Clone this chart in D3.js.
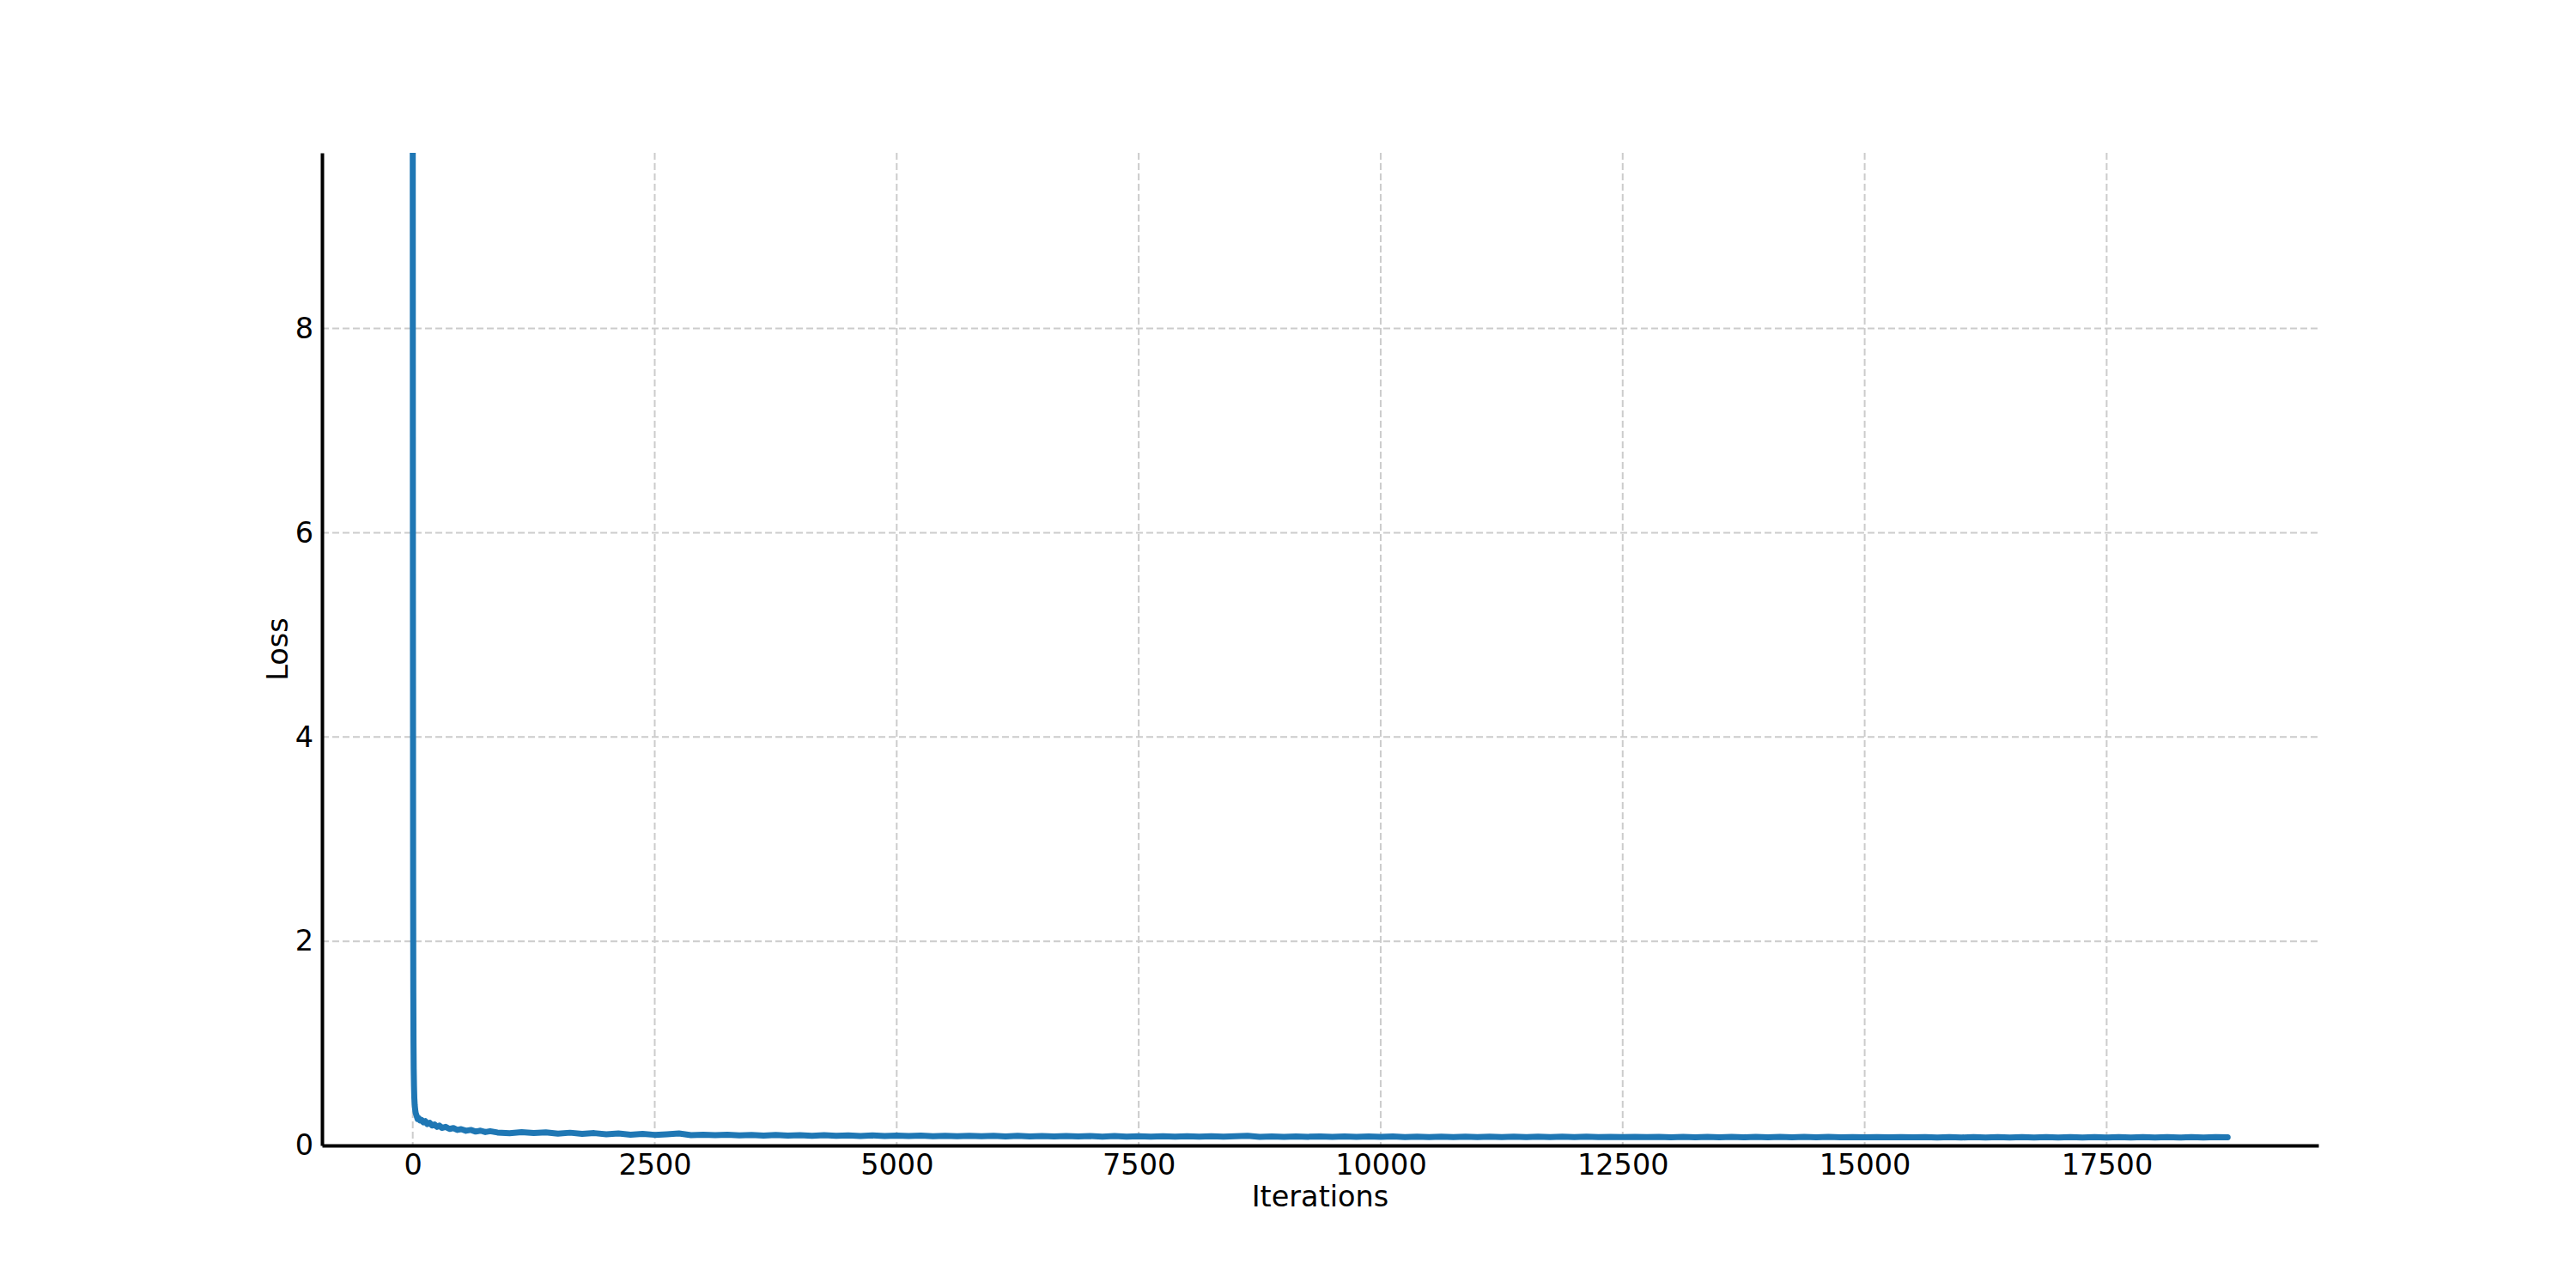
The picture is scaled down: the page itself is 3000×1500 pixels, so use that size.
<!DOCTYPE html>
<html>
<head>
<meta charset="utf-8">
<script src="https://cdn.jsdelivr.net/npm/d3@7"></script>
<style>
  body { margin: 0; background: #ffffff; }
  text { font-family: "DejaVu Sans", sans-serif; fill: #000000; }
</style>
</head>
<body>
<div id="chart"></div>
<script>
// training run
const iterations = [
  0, 2, 4, 6, 8, 10, 13, 16, 20, 25, 30, 40, 50, 60, 75, 90,
  110, 130, 150, 175, 200, 225, 250, 275, 300, 340, 380, 420, 460, 500,
  550, 600, 650, 700, 750, 800, 875,
  1000, 1125, 1250, 1375, 1500, 1625, 1750, 1875, 2000, 2125, 2250, 2375,
  2500, 2625, 2750, 2875, 3000, 3125, 3250, 3375, 3500, 3625, 3750, 3875,
  4000, 4125, 4250, 4375, 4500, 4625, 4750, 4875, 5000, 5125, 5250, 5375,
  5500, 5625, 5750, 5875, 6000, 6125, 6250, 6375, 6500, 6625, 6750, 6875,
  7000, 7125, 7250, 7375, 7500, 7625, 7750, 7875, 8000, 8125, 8250, 8375,
  8500, 8625, 8750, 8875, 9000, 9125, 9250, 9375, 9500, 9625, 9750, 9875,
  10000, 10125, 10250, 10375, 10500, 10625, 10750, 10875, 11000, 11125, 11250, 11375,
  11500, 11625, 11750, 11875, 12000, 12125, 12250, 12375, 12500, 12625, 12750, 12875,
  13000, 13125, 13250, 13375, 13500, 13625, 13750, 13875, 14000, 14125, 14250, 14375,
  14500, 14625, 14750, 14875, 15000, 15125, 15250, 15375, 15500, 15625, 15750, 15875,
  16000, 16125, 16250, 16375, 16500, 16625, 16750, 16875, 17000, 17125, 17250, 17375,
  17500, 17625, 17750, 17875, 18000, 18125, 18250, 18375, 18500, 18625, 18750
]
const loss = [
  9.9, 5.2, 2.6, 1.5, 1.0, 0.75, 0.58, 0.47, 0.40, 0.35, 0.32, 0.29, 0.26, 0.268, 0.245, 0.25,
  0.226, 0.238, 0.21, 0.222, 0.196, 0.206, 0.182, 0.194, 0.172, 0.182, 0.162, 0.17, 0.152, 0.16,
  0.144, 0.152, 0.136, 0.145, 0.131, 0.14, 0.127,
  0.120, 0.131, 0.122, 0.129, 0.115, 0.125, 0.113, 0.121, 0.109, 0.117, 0.106, 0.113,
  0.104, 0.110, 0.118, 0.101, 0.106, 0.100, 0.105, 0.098, 0.103, 0.097, 0.102, 0.096,
  0.101, 0.095, 0.100, 0.094, 0.099, 0.093, 0.098, 0.092, 0.097, 0.092, 0.096, 0.091,
  0.095, 0.091, 0.095, 0.090, 0.094, 0.089, 0.094, 0.089, 0.093, 0.088, 0.093, 0.088,
  0.092, 0.087, 0.092, 0.087, 0.091, 0.087, 0.091, 0.086, 0.090, 0.086, 0.090, 0.086,
  0.090, 0.094, 0.085, 0.089, 0.085, 0.089, 0.085, 0.089, 0.084, 0.089, 0.084, 0.088,
  0.084, 0.088, 0.083, 0.087, 0.083, 0.087, 0.083, 0.087, 0.082, 0.087, 0.082, 0.086,
  0.082, 0.086, 0.082, 0.086, 0.081, 0.086, 0.081, 0.085, 0.081, 0.085, 0.081, 0.085,
  0.080, 0.085, 0.080, 0.084, 0.080, 0.084, 0.080, 0.084, 0.080, 0.084, 0.079, 0.084,
  0.079, 0.084, 0.079, 0.083, 0.079, 0.083, 0.079, 0.083, 0.079, 0.083, 0.078, 0.083,
  0.078, 0.083, 0.078, 0.082, 0.078, 0.082, 0.078, 0.082, 0.078, 0.082, 0.078, 0.082,
  0.077, 0.082, 0.077, 0.082, 0.077, 0.082, 0.077, 0.081, 0.077, 0.081, 0.080
]
const xTicks = [0, 2500, 5000, 7500, 10000, 12500, 15000, 17500]
const yTicks = [0, 2, 4, 6, 8]
const xDomain = [-937.5, 19687.5]
const yDomain = [0, 9.72]

const width = 3000
const height = 1500
const margin = { left: 375, right: 300, top: 178, bottom: 166 }
const plotW = width - margin.left - margin.right
const plotH = height - margin.top - margin.bottom
const fontSize = 33.5

const svg = d3.select("#chart")
  .append("svg")
  .attr("width", width)
  .attr("height", height)

const x = d3.scaleLinear().domain(xDomain).range([0, plotW])
const y = d3.scaleLinear().domain(yDomain).range([plotH, 0])

const g = svg.append("g")
  .attr("transform", "translate(" + margin.left + "," + margin.top + ")")

// dashed grid
g.append("g")
  .selectAll("line")
  .data(xTicks)
  .enter()
  .append("line")
  .attr("x1", d => x(d))
  .attr("x2", d => x(d))
  .attr("y1", 0)
  .attr("y2", plotH)
  .attr("stroke", "#cccccc")
  .attr("stroke-width", 2)
  .attr("stroke-dasharray", "8,4")

g.append("g")
  .selectAll("line")
  .data(yTicks)
  .enter()
  .append("line")
  .attr("x1", 0)
  .attr("x2", plotW)
  .attr("y1", d => y(d))
  .attr("y2", d => y(d))
  .attr("stroke", "#cccccc")
  .attr("stroke-width", 2)
  .attr("stroke-dasharray", "8,4")

// clip the line to the axes box
svg.append("defs")
  .append("clipPath")
  .attr("id", "plotclip")
  .append("rect")
  .attr("width", plotW)
  .attr("height", plotH)

const line = d3.line()
  .x((d, i) => x(iterations[i]))
  .y(d => y(d))

g.append("path")
  .datum(loss)
  .attr("clip-path", "url(#plotclip)")
  .attr("d", line)
  .attr("fill", "none")
  .attr("stroke", "#1f77b4")
  .attr("stroke-width", 7)
  .attr("stroke-linejoin", "round")
  .attr("stroke-linecap", "round")

// axes, no tick marks
const xAxis = g.append("g")
  .attr("transform", "translate(0," + plotH + ")")
  .call(d3.axisBottom(x).tickValues(xTicks).tickSize(0).tickPadding(10).tickFormat(d3.format("d")))
xAxis.select(".domain").attr("stroke", "#000").attr("stroke-width", 4)
xAxis.selectAll("text").style("font-size", fontSize + "px").style("font-family", "DejaVu Sans")

const yAxis = g.append("g")
  .call(d3.axisLeft(y).tickValues(yTicks).tickSize(0).tickPadding(10).tickFormat(d3.format("d")))
yAxis.select(".domain").attr("stroke", "#000").attr("stroke-width", 4)
yAxis.selectAll("text").style("font-size", fontSize + "px").style("font-family", "DejaVu Sans")

// axis titles
g.append("text")
  .attr("x", plotW / 2)
  .attr("y", plotH + 71)
  .style("font-size", fontSize + "px")
  .style("text-anchor", "middle")
  .text("Iterations")

g.append("text")
  .attr("transform", "translate(" + (-40) + "," + (plotH / 2) + ") rotate(-90)")
  .style("font-size", fontSize + "px")
  .style("text-anchor", "middle")
  .text("Loss")
</script>
</body>
</html>
